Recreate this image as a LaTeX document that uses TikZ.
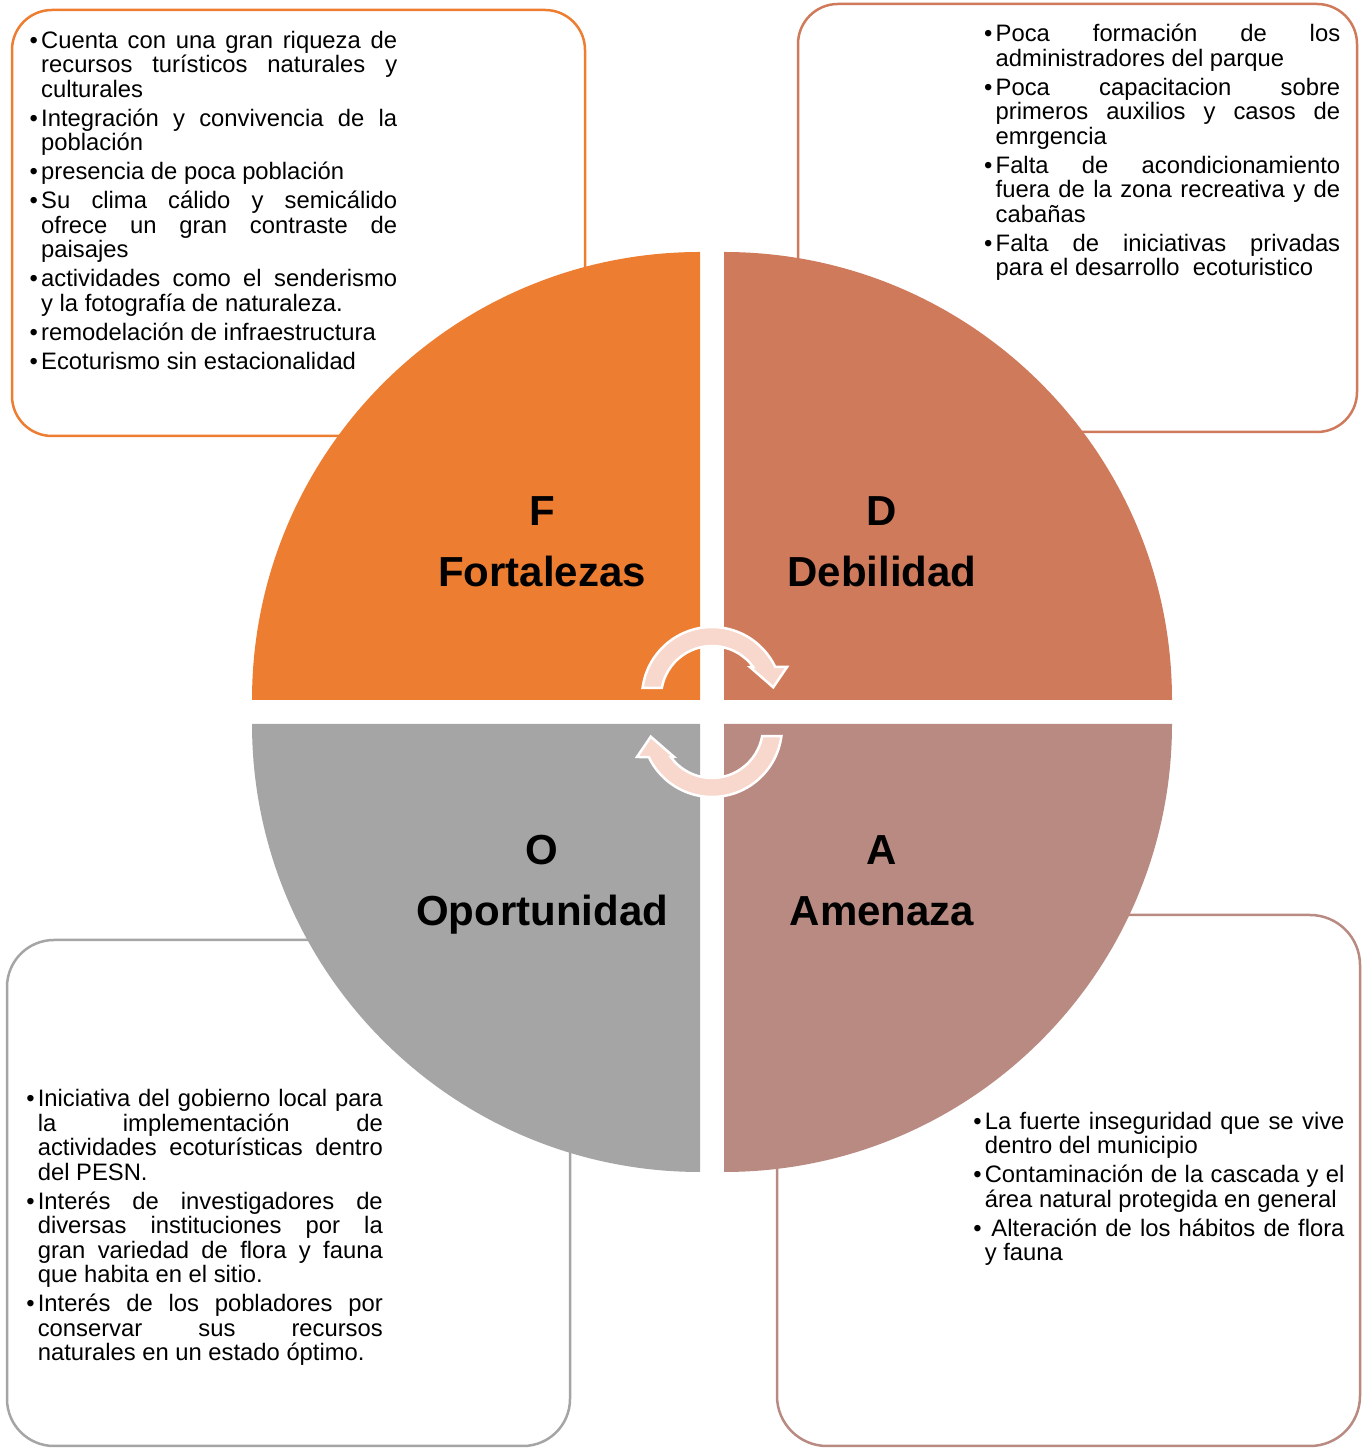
\documentclass[tikz,border=0pt]{standalone}
\usepackage{fontspec}
\setmainfont{Liberation Sans}
\definecolor{colF}{HTML}{ED7D31}
\definecolor{colD}{HTML}{D07A5C}
\definecolor{colO}{HTML}{A5A5A5}
\definecolor{colA}{HTML}{B98A82}
\definecolor{colArrow}{HTML}{F8D7CC}
\newcommand{\swotitem}[1]{%
    \par\parskip=4.5pt\tolerance=10000\hbadness=10000\hyphenpenalty=10000
    \hangindent=11.5pt\hangafter=1\noindent\makebox[11.5pt][l]{\textbullet}#1\par}
\tikzset{
    swotbox/.style = {rounded corners=#1, line width=2.5pt},
    swottext/.style = {anchor=base west, inner sep=0pt, text width=#1, align=justify,
        font=\fontsize{23.8}{24.5}\selectfont},
    quadlabel/.style = {anchor=base, inner sep=0pt,
        font=\fontsize{42}{50}\selectfont\bfseries},
    cyclearrow/.style = {fill=colArrow, draw=white, line width=2.5pt}
}

\begin{document}
\begin{tikzpicture}[x=1pt, y=1pt]
    \useasboundingbox (0,0) rectangle (1362,1448);

    \draw[swotbox=40pt, colF] (12,1012) rectangle (585,1438);
    \draw[swotbox=40pt, colD] (798,1016) rectangle (1357,1444);
    \draw[swotbox=47pt, colO] (7,2) rectangle (570,508);
    \draw[swotbox=50pt, colA] (777,2) rectangle (1360,533);

    \foreach \col/\cx/\cy/\a in {colF/700/748/90, colD/724/748/0, colO/700/724/180, colA/724/724/270}
    \fill[\col] (\cx,\cy) -- ++(\a:448) arc[start angle=\a, delta angle=90, radius=448pt] -- cycle;

    \foreach \nm/\x/\y/\ltr/\word in {F/542/922/F/Fortalezas, D/882/922/D/Debilidad,
        O/542/583/O/Oportunidad, A/882/583/A/Amenaza}{
        \node[quadlabel] (\nm-ltr) at (\x,\y) {\ltr};
        \node[quadlabel] (\nm-word) at (\x,\y-61) {\word};
    }

    \foreach \rot in {0,180}
    \filldraw[cyclearrow, rotate around={\rot:(712,736)}, shift={(712,751)}]
        (172.6:70) arc[start angle=172.6, end angle=25.4, radius=70pt] -- (21.8:80.8) -- (9:62)
        -- (38:48.4) -- (36:51) arc[start angle=36, end angle=169.8, radius=51pt] -- cycle;

    \node[swottext=367.5pt] (F-txt) at (29.5,1428.5) {%
        \swotitem{Cuenta con una gran riqueza de \linebreak recursos turísticos naturales y \linebreak culturales}
        \swotitem{Integración y convivencia de la \linebreak población}
        \swotitem{presencia de poca población}
        \swotitem{Su clima cálido y semicálido \linebreak ofrece un gran contraste de \linebreak paisajes}
        \swotitem{actividades como el senderismo \linebreak y la fotografía de naturaleza.}
        \swotitem{remodelación de infraestructura}
        \swotitem{Ecoturismo sin estacionalidad}};
    \node[swottext=356pt] (D-txt) at (984,1435) {%
        \swotitem{Poca formación de los \linebreak administradores del parque}
        \swotitem{Poca capacitacion sobre \linebreak primeros auxilios y casos de \linebreak emrgencia}
        \swotitem{Falta de acondicionamiento \linebreak fuera de la zona recreativa y de \linebreak cabañas}
        \swotitem{Falta de iniciativas privadas \linebreak para el desarrollo\ \ ecoturistico}};
    \node[swottext=356.5pt] (O-txt) at (26.1,370) {%
        \swotitem{Iniciativa del gobierno local para \linebreak la implementación de \linebreak actividades ecoturísticas dentro \linebreak del PESN.}
        \swotitem{Interés de investigadores de \linebreak diversas instituciones por la \linebreak gran variedad de flora y fauna \linebreak que habita en el sitio.}
        \swotitem{Interés de los pobladores por \linebreak conservar sus recursos \linebreak naturales en un estado óptimo.}};
    \node[swottext=371.2pt] (A-txt) at (973.1,347.5) {%
        \swotitem{La fuerte inseguridad que se vive \linebreak dentro del municipio}
        \swotitem{Contaminación de la cascada y el \linebreak área natural protegida en general}
        \swotitem{\hspace*{6.7pt}Alteración de los hábitos de flora \linebreak y fauna}};
\end{tikzpicture}
\end{document}
